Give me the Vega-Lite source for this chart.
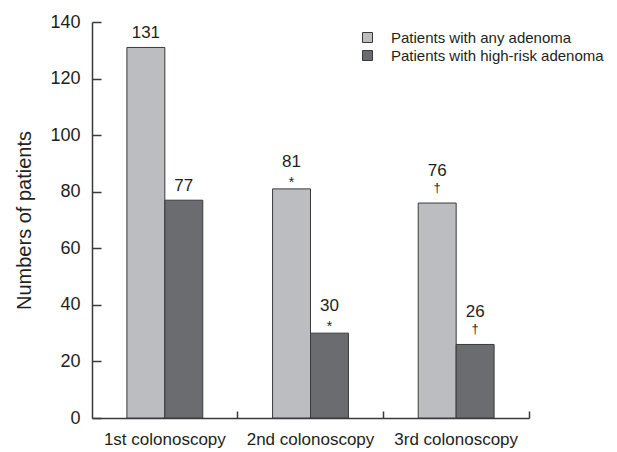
{
  "$schema": "https://vega.github.io/schema/vega-lite/v6.json",
  "width": 437,
  "height": 396,
  "autosize": {"type": "none"},
  "padding": {"left": 92, "top": 22, "right": 88, "bottom": 34},
  "background": "white",
  "config": {
    "font": "Liberation Sans",
    "view": {"stroke": null},
    "axis": {"labelColor": "#231f20", "titleColor": "#231f20", "domainColor": "#3a3a3a", "tickColor": "#3a3a3a", "domainWidth": 1.5, "tickWidth": 1.5, "grid": false, "labelFont": "Liberation Sans", "titleFont": "Liberation Sans"},
    "legend": {"labelFont": "Liberation Sans"},
    "text": {"font": "Liberation Sans", "color": "#231f20"}
  },
  "data": {
    "values": [
      {"visit": "1st colonoscopy", "group": "Patients with any adenoma", "n": 131, "sym": ""},
      {"visit": "1st colonoscopy", "group": "Patients with high-risk adenoma", "n": 77, "sym": ""},
      {"visit": "2nd colonoscopy", "group": "Patients with any adenoma", "n": 81, "sym": "*"},
      {"visit": "2nd colonoscopy", "group": "Patients with high-risk adenoma", "n": 30, "sym": "*"},
      {"visit": "3rd colonoscopy", "group": "Patients with any adenoma", "n": 76, "sym": "†"},
      {"visit": "3rd colonoscopy", "group": "Patients with high-risk adenoma", "n": 26, "sym": "†"}
    ]
  },
  "encoding": {
    "x": {
      "field": "visit", "type": "nominal", "sort": null,
      "scale": {"paddingInner": 0, "paddingOuter": 0},
      "axis": {"title": null, "labelAngle": 0, "labelFontSize": 17, "tickSize": -7, "bandPosition": 1, "labelPadding": 20}
    },
    "xOffset": {"field": "group", "type": "nominal", "scale": {"paddingInner": 0, "paddingOuter": 0.92}},
    "y": {
      "field": "n", "type": "quantitative",
      "scale": {"domain": [0, 140], "nice": false},
      "axis": {"title": "Numbers of patients", "values": [0, 20, 40, 60, 80, 100, 120, 140], "labelFontSize": 18, "titleFontSize": 20, "titleFontWeight": "normal", "tickSize": -9, "labelPadding": 21, "titlePadding": 15}
    }
  },
  "layer": [
    {
      "mark": {"type": "bar", "stroke": "#3a3a3a", "strokeWidth": 1},
      "encoding": {
        "color": {
          "field": "group", "type": "nominal",
          "scale": {"range": ["#bcbdc1", "#6b6c70"]},
          "legend": {"title": null, "orient": "none", "legendX": 268, "legendY": 8, "symbolType": "square", "symbolSize": 100, "symbolStrokeColor": "#3a3a3a", "symbolStrokeWidth": 1, "labelFontSize": 15, "labelColor": "#231f20", "labelOffset": 16, "labelLimit": 0, "rowPadding": 2, "padding": 0}
        }
      }
    },
    {
      "transform": [{"filter": "datum.sym == ''"}],
      "mark": {"type": "text", "fontSize": 17, "baseline": "alphabetic", "dy": -9},
      "encoding": {"text": {"field": "n", "type": "quantitative"}}
    },
    {
      "transform": [{"filter": "datum.sym == '*'"}],
      "mark": {"type": "text", "fontSize": 17, "baseline": "alphabetic", "dy": -22},
      "encoding": {"text": {"field": "n", "type": "quantitative"}}
    },
    {
      "transform": [{"filter": "datum.sym == '†'"}],
      "mark": {"type": "text", "fontSize": 17, "baseline": "alphabetic", "dy": -27},
      "encoding": {"text": {"field": "n", "type": "quantitative"}}
    },
    {
      "transform": [{"filter": "datum.sym == '*'"}],
      "mark": {"type": "text", "fontSize": 14, "baseline": "alphabetic", "dy": -2},
      "encoding": {"text": {"field": "sym", "type": "nominal"}}
    },
    {
      "transform": [{"filter": "datum.sym == '†'"}],
      "mark": {"type": "text", "fontSize": 13, "baseline": "alphabetic", "dy": -11, "color": "#231f20"},
      "encoding": {"text": {"field": "sym", "type": "nominal"}}
    }
  ]
}
